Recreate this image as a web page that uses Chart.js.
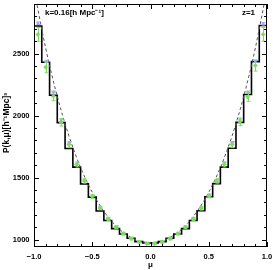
<!DOCTYPE html>
<html><head><meta charset="utf-8">
<script src="https://cdn.jsdelivr.net/npm/chart.js@4"></script>
<style>html,body{margin:0;padding:0;background:#fff;overflow:hidden}</style>
</head><body>
<canvas id="c" width="273" height="270" style="display:block;width:273px;height:270px"></canvas>
<script>
// ---- data ----
const muCenters = [-0.967,-0.9,-0.833,-0.767,-0.7,-0.633,-0.567,-0.5,-0.433,-0.367,-0.3,-0.233,-0.167,-0.1,-0.033,
                    0.033,0.1,0.167,0.233,0.3,0.367,0.433,0.5,0.567,0.633,0.7,0.767,0.833,0.9,0.967];
const binHalfWidth = 0.0333;
const stepVals = [2722,2430,2164,1943,1734,1584,1449,1342,1230,1154,1088,1045,1010,983,972,
                  972,983,1010,1045,1088,1154,1232,1345,1451,1584,1736,1945,2170,2435,2727];
const greenVals = [2655,2390,2156,1946,1766,1606,1473,1348,1255,1167,1100,1048,1008,981,968,
                   968,981,1008,1048,1100,1167,1252,1353,1473,1606,1766,1950,2151,2404,2655];
const greenErr = [55,45,36,30,25,21,18,16,14,13,12,11,11,10,10,
                  10,10,11,11,12,13,14,16,18,21,25,30,36,45,55];
const blueVals = [2745,2437,2190,1962,1775,1612,1476,1352,1256,1168,1100,1048,1008,981,968,
                  968,981,1008,1048,1100,1168,1256,1355,1476,1612,1775,1965,2190,2437,2740];
const blueErr = [10,9,8,8,7,7,6,6,6,5,5,5,5,5,5,5,5,5,5,5,5,6,6,6,7,7,8,8,9,10];
const dashMu = [-1,-0.9,-0.8,-0.7,-0.6,-0.5,-0.4,-0.3,-0.2,-0.1,0,0.1,0.2,0.3,0.4,0.5,0.6,0.7,0.8,0.9,1];
const dashVals = [3020,2545,2154,1836,1581,1381,1227,1113,1035,990,975,990,1035,1113,1227,1381,1581,1836,2154,2545,3020];
const xTicks = [-1,-0.5,0,0.5,1];
const yTicks = [1000,1500,2000,2500];
const xRange = [-1,1];
const yRange = [940,2900];
const labelK = 'k=0.16[h Mpc\u207B\u00B9]';
const labelZ = 'z=1';
const xTitle = '\u03BC';
const yTitle = 'P(k,\u03BC)[h\u207B\u00B9Mpc]\u00B3';

const GREEN = '#7ddc5e';
const BLUE = '#a3a6f5';
const FONT = '"Liberation Sans", Arial, sans-serif';

// step edges built from bin centres
const stepPts = muCenters.map((m,i)=>({x:m-binHalfWidth, y:stepVals[i]}));
stepPts.push({x:muCenters[muCenters.length-1]+binHalfWidth, y:stepVals[stepVals.length-1]});

const fmt = v => (v<0?'\u2212':'') + Math.abs(v).toFixed(1);

const errPlugin = {
  id:'errbars',
  beforeDatasetDraw(chart, args){
    const ds = chart.data.datasets[args.index];
    if(!ds.errs) return;
    const xs = chart.scales.x, ys = chart.scales.y, ctx = chart.ctx;
    const a = chart.chartArea;
    ctx.save();
    ctx.beginPath(); ctx.rect(a.left,a.top,a.right-a.left,a.bottom-a.top); ctx.clip();
    ctx.strokeStyle = ds.borderColor; ctx.lineWidth = 1;
    ds.data.forEach((p,i)=>{
      const px = Math.round(xs.getPixelForValue(p.x))+0.5;
      const y1 = ys.getPixelForValue(p.y - ds.errs[i]);
      const y2 = ys.getPixelForValue(p.y + ds.errs[i]);
      ctx.beginPath();
      ctx.moveTo(px,y1); ctx.lineTo(px,y2);
      ctx.moveTo(px-2,y1); ctx.lineTo(px+2,y1);
      ctx.moveTo(px-2,y2); ctx.lineTo(px+2,y2);
      ctx.stroke();
    });
    ctx.restore();
  }
};

const framePlugin = {
  id:'frame',
  afterDraw(chart){
    const ctx = chart.ctx, a = chart.chartArea, xs = chart.scales.x, ys = chart.scales.y;
    ctx.save();
    ctx.strokeStyle = '#000'; ctx.lineWidth = 1;
    ctx.strokeRect(a.left+0.5, a.top+0.5, a.right-a.left-1, a.bottom-a.top-1);
    ctx.beginPath();
    for(let k=-10;k<=10;k++){
      const v = k/10, px = Math.round(xs.getPixelForValue(v))+0.5;
      const len = (k%5===0)?5:3;
      ctx.moveTo(px,a.bottom); ctx.lineTo(px,a.bottom-len);
      ctx.moveTo(px,a.top); ctx.lineTo(px,a.top+len);
    }
    for(let v=1000; v<=2900; v+=100){
      const py = Math.round(ys.getPixelForValue(v))+0.5;
      const len = (v%500===0)?5:3;
      ctx.moveTo(a.left,py); ctx.lineTo(a.left+len,py);
      ctx.moveTo(a.right,py); ctx.lineTo(a.right-len,py);
    }
    ctx.stroke();
    ctx.fillStyle = '#000';
    // tick labels
    ctx.font = 'bold 7.5px ' + FONT;
    ctx.textBaseline = 'middle';
    ctx.textAlign = 'center';
    xTicks.forEach(v => ctx.fillText(fmt(v), xs.getPixelForValue(v), 256.5));
    ctx.textAlign = 'right';
    yTicks.forEach(v => ctx.fillText(String(v), a.left-4.5, ys.getPixelForValue(v)));
    // annotations
    ctx.font = 'bold 8px ' + FONT;
    ctx.textAlign = 'left';
    ctx.fillText(labelK, a.left+11, 13);
    ctx.textAlign = 'right';
    ctx.fillText(labelZ, a.right-12, 13);
    ctx.textAlign = 'center';
    ctx.fillText(xTitle, xs.getPixelForValue(0), 265);
    ctx.save();
    ctx.translate(7, 123);
    ctx.rotate(-Math.PI/2);
    ctx.font = 'bold 8.5px ' + FONT;
    ctx.fillText(yTitle, 0, 0);
    ctx.restore();
    ctx.restore();
  }
};

new Chart(document.getElementById('c'), {
  type:'line',
  data:{ datasets:[
    { label:'green', data: muCenters.map((m,i)=>({x:m,y:greenVals[i]})), errs: greenErr,
      showLine:false, pointStyle:'rectRot', pointRadius:2.4, backgroundColor:GREEN, borderColor:GREEN, borderWidth:0, order:1 },
    { label:'blue', data: muCenters.map((m,i)=>({x:m,y:blueVals[i]})), errs: blueErr,
      showLine:false, pointStyle:'rectRot', pointRadius:1.6, backgroundColor:BLUE, borderColor:BLUE, borderWidth:0, order:2 },
    { label:'model', data: dashMu.map((m,i)=>({x:m,y:dashVals[i]})),
      borderColor:'#555', borderWidth:1, borderDash:[3,2.5], pointRadius:0, cubicInterpolationMode:'monotone', fill:false, order:3 },
    { label:'binned', data: stepPts, stepped:'before',
      borderColor:'#000', borderWidth:1.6, pointRadius:0, fill:false, order:4 }
  ]},
  options:{
    responsive:false, animation:false, devicePixelRatio:1,
    layout:{padding:{left:0,right:6,top:0,bottom:0}},
    plugins:{legend:{display:false}, tooltip:{enabled:false}},
    scales:{
      x:{ type:'linear', min:xRange[0], max:xRange[1],
          grid:{display:false}, border:{display:false},
          afterBuildTicks: s => { s.ticks = xTicks.map(v=>({value:v})); },
          ticks:{ display:false },
          afterFit: s => { s.height = 23; s.paddingLeft = 0; s.paddingRight = 0; } },
      y:{ type:'linear', min:yRange[0], max:yRange[1],
          grid:{display:false}, border:{display:false},
          afterBuildTicks: s => { s.ticks = yTicks.map(v=>({value:v})); },
          ticks:{ display:false },
          afterFit: s => { s.width = 34; s.paddingTop = 0; s.paddingBottom = 0; } }
    }
  },
  plugins:[errPlugin, framePlugin]
});
</script>
</body></html>
